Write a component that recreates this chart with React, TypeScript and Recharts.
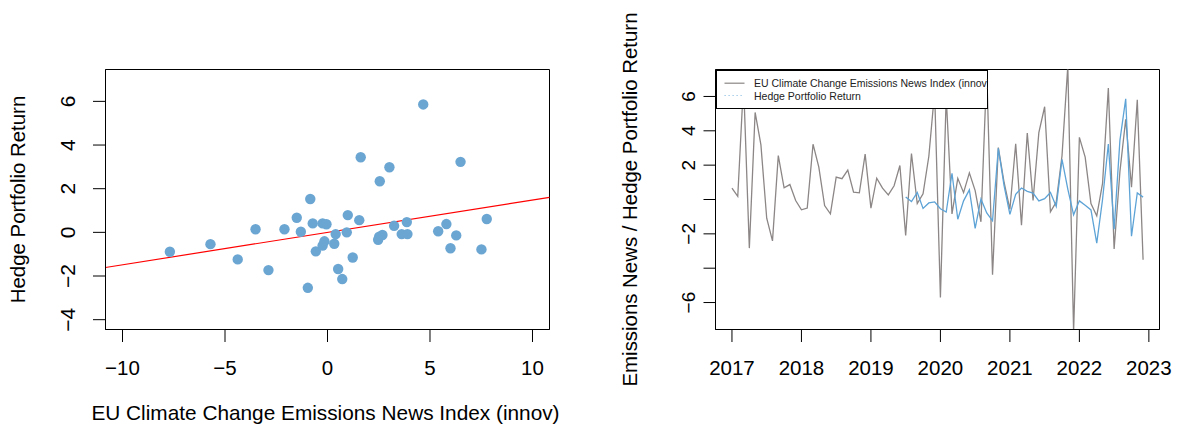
import React from 'react';
import {
  ScatterChart,
  Scatter,
  LineChart,
  Line,
  XAxis,
  YAxis,
  ReferenceLine,
  ReferenceArea,
  Legend,
  Label,
} from 'recharts';

const FONT = '"Liberation Sans", Arial, Helvetica, sans-serif';

// monthly series, Jan 2017 .. Dec 2022
const START_YEAR = 2017;
// hedge returns start in Jul 2019 (month index 30)
const HEDGE_START = 30;

const NEWS_LABEL = 'EU Climate Change Emissions News Index (innov)';
const HEDGE_LABEL = 'Hedge Portfolio Return';

const newsIndex = [
  0.66, 0.18, 6.8, -2.83, 5.07, 3.18, -1.09, -2.41, 2.56, 0.68, 0.87, -0.06,
  -0.6, -0.5, 3.22, 1.88, -0.35, -0.83, 1.3, 1.21, 1.71, 0.43, 0.39, 2.64,
  -0.5, 1.24, 0.66, 0.27, 0.8, 1.98, -2.1, 2.68, -0.24, 0.33, 2.52, 6.28,
  -5.71, 6.0, -0.84, 1.23, 0.4, 1.55, 0.52, -1.3, 7.51, -4.38, 3.02, 0.99,
  -0.57, 3.25, -1.5, 3.87, -0.05, 3.9, 5.4, -0.72, -0.15, 2.55, 7.77, -7.69,
  3.62, 2.47, -0.24, -0.96, 0.94, 6.49, -2.88, 1.62, 4.67, 0.72, 5.8, -3.51,
];

const hedgeReturn = [
  0.14, -0.12, 0.41, -0.52, -0.2, -0.14, -0.54, -0.73, 1.53, -1.15, -0.08, 0.56,
  -1.68, 0.03, -0.78, -1.24, 2.98, 0.79, -0.87, 0.3, 0.67, 0.47, 0.37, -0.08,
  0.05, 0.41, -0.41, 2.34, 0.61, -0.89, -0.08, -0.34, -0.61, -2.54, 0.0, 3.23,
  -1.73, 3.44, 5.86, -2.14, 0.38, 0.14,
];

const scatterXTicks = [-10, -5, 0, 5, 10];
const scatterYTicks = [-4, -2, 0, 2, 4, 6];
const yearTicks = [2017, 2018, 2019, 2020, 2021, 2022, 2023];
const seriesYTicks = [-6, -4, -2, 0, 2, 4, 6];
const seriesYLabels = [6, 4, 2, -2, -6]; // 0 and -4 are dropped (overlap)

const SCATTER_X_DOMAIN: [number, number] = [-10.83, 10.83];
const SCATTER_Y_DOMAIN: [number, number] = [-4.45, 7.46];
const SERIES_X_DOMAIN: [number, number] = [2016.763, 2023.153];
const SERIES_Y_DOMAIN: [number, number] = [-7.57, 7.57];

const scatterData = hedgeReturn.map((y, i) => ({ x: newsIndex[i + HEDGE_START], y }));

const seriesData = newsIndex.map((news, i) => ({
  t: START_YEAR + i / 12,
  news,
  hedge: i >= HEDGE_START ? hedgeReturn[i - HEDGE_START] : null,
}));

// lm(hedge ~ news)
const fit = (() => {
  const n = scatterData.length;
  const mx = scatterData.reduce((s, p) => s + p.x, 0) / n;
  const my = scatterData.reduce((s, p) => s + p.y, 0) / n;
  let sxy = 0;
  let sxx = 0;
  scatterData.forEach((p) => {
    sxy += (p.x - mx) * (p.y - my);
    sxx += (p.x - mx) * (p.x - mx);
  });
  const slope = sxy / sxx;
  return { slope, intercept: my - slope * mx };
})();

const fmt = (v: number) => (v < 0 ? `\u2212${Math.abs(v)}` : `${v}`);

const AXIS = '#000';
const NEWS_COLOR = '#8c8686';
const HEDGE_COLOR = '#5da3d6';
const DOT_COLOR = '#6ba6d3';

const RotatedTick = (props: any) => {
  const { x, y, payload, fontSize, show } = props;
  if (show && !show.includes(payload.value)) return <g />;
  return (
    <text
      x={x}
      y={y}
      transform={`rotate(-90 ${x} ${y})`}
      textAnchor="middle"
      fontSize={fontSize}
      fontFamily={FONT}
      fill="#000"
    >
      {fmt(payload.value)}
    </text>
  );
};

const YTitle = (props: any) => {
  const { viewBox, value, baseX } = props;
  const cy = viewBox ? viewBox.y + viewBox.height / 2 : 199.5;
  return (
    <text
      x={baseX}
      y={cy}
      transform={`rotate(-90 ${baseX} ${cy})`}
      textAnchor="middle"
      fontSize={20.4}
      fontFamily={FONT}
      fill="#000"
    >
      {value}
    </text>
  );
};

const XTitle = (props: any) => {
  const { viewBox, value, baseY } = props;
  const cx = viewBox ? viewBox.x + viewBox.width / 2 - 2 : 325.5;
  return (
    <text x={cx} y={baseY} textAnchor="middle" fontSize={20.8} fontFamily={FONT} fill="#000">
      {value}
    </text>
  );
};

// legend rows in the order R draws them
const legendOrder = ['news', 'hedge'];
const legendStyles: Record<string, { color: string; dash?: string; label: string }> = {
  news: { color: NEWS_COLOR, label: NEWS_LABEL },
  hedge: { color: '#8fc0e4', dash: '1.2 2.8', label: HEDGE_LABEL },
};

const BoxLegend = (props: any) => {
  const payload = props.payload || [];
  const keys = legendOrder.filter((k) => payload.some((e: any) => e.dataKey === k));
  const rows = [13.2, 25.5];
  return (
    <svg width={272} height={39} style={{ display: 'block' }}>
      <rect x={0.5} y={0.5} width={271} height={38} fill="#fff" stroke={AXIS} />
      {keys.map((key, i) => {
        const st = legendStyles[key];
        const cy = rows[i];
        return (
          <g key={key}>
            <line x1={8.5} x2={28.5} y1={cy} y2={cy} stroke={st.color} strokeWidth={1.2} strokeDasharray={st.dash} />
            <text x={38} y={cy} dominantBaseline="central" fontSize={10.5} fontFamily={FONT} fill="#222">
              {st.label}
            </text>
          </g>
        );
      })}
    </svg>
  );
};

const ScatterPanel = () => {
  const [x0, x1] = SCATTER_X_DOMAIN;
  const [y0, y1] = SCATTER_Y_DOMAIN;
  return (
    <ScatterChart width={600} height={430} margin={{ top: 69.5, right: 50.5, bottom: 0, left: 25.5 }}>
      <XAxis
        type="number"
        dataKey="x"
        domain={SCATTER_X_DOMAIN}
        allowDataOverflow
        ticks={scatterXTicks}
        interval={0}
        height={100.5}
        tickSize={12.5}
        tickMargin={18}
        axisLine={{ stroke: AXIS }}
        tickLine={{ stroke: AXIS }}
        tick={{ fill: '#000', fontSize: 20.5, fontFamily: FONT }}
        tickFormatter={fmt}
      >
        <Label content={(p: any) => <XTitle {...p} value={NEWS_LABEL} baseY={420} />} />
      </XAxis>
      <YAxis
        type="number"
        dataKey="y"
        domain={SCATTER_Y_DOMAIN}
        allowDataOverflow
        ticks={scatterYTicks}
        interval={0}
        width={80}
        tickSize={12.5}
        tickMargin={18}
        axisLine={{ stroke: AXIS }}
        tickLine={{ stroke: AXIS }}
        tick={(p: any) => <RotatedTick {...p} fontSize={21} />}
      >
        <Label content={(p: any) => <YTitle {...p} value={HEDGE_LABEL} baseX={24.5} />} />
      </YAxis>
      <ReferenceArea x1={x0} x2={x1} y1={y0} y2={y1} fill="none" stroke={AXIS} strokeWidth={1} ifOverflow="visible" />
      <ReferenceLine
        segment={[
          { x: x0, y: fit.intercept + fit.slope * x0 },
          { x: x1, y: fit.intercept + fit.slope * x1 },
        ]}
        stroke="#ff0000"
        strokeWidth={1.2}
        ifOverflow="visible"
      />
      <Scatter
        data={scatterData}
        isAnimationActive={false}
        fill={DOT_COLOR}
        shape={(p: any) => <circle cx={p.cx} cy={p.cy} r={5.2} fill={DOT_COLOR} />}
      />
    </ScatterChart>
  );
};

const SeriesPanel = () => {
  const [x0, x1] = SERIES_X_DOMAIN;
  const [y0, y1] = SERIES_Y_DOMAIN;
  return (
    <LineChart width={577} height={430} data={seriesData} margin={{ top: 69.5, right: 17.5, bottom: 0, left: 45.5 }}>
      <XAxis
        type="number"
        dataKey="t"
        domain={SERIES_X_DOMAIN}
        allowDataOverflow
        ticks={yearTicks}
        interval={0}
        height={100.5}
        tickSize={12.5}
        tickMargin={18}
        axisLine={{ stroke: AXIS }}
        tickLine={{ stroke: AXIS }}
        tick={{ fill: '#000', fontSize: 20.5, fontFamily: FONT }}
      />
      <YAxis
        type="number"
        domain={SERIES_Y_DOMAIN}
        allowDataOverflow
        ticks={seriesYTicks}
        interval={0}
        width={70}
        tickSize={12}
        tickMargin={8.5}
        axisLine={{ stroke: AXIS }}
        tickLine={{ stroke: AXIS }}
        tick={(p: any) => <RotatedTick {...p} fontSize={19} show={seriesYLabels} />}
      >
        <Label
          content={(p: any) => (
            <YTitle {...p} value="Emissions News / Hedge Portfolio Return" baseX={36.5} />
          )}
        />
      </YAxis>
      <ReferenceArea x1={x0} x2={x1} y1={y0} y2={y1} fill="none" stroke={AXIS} strokeWidth={1} ifOverflow="visible" />
      <Line
        type="linear"
        dataKey="news"
        stroke={NEWS_COLOR}
        strokeWidth={1.3}
        dot={false}
        isAnimationActive={false}
      />
      <Line
        type="linear"
        dataKey="hedge"
        stroke={HEDGE_COLOR}
        strokeWidth={1.3}
        dot={false}
        isAnimationActive={false}
      />
      <Legend
        layout="horizontal"
        verticalAlign="middle"
        align="center"
        wrapperStyle={{ position: 'absolute', left: 115.5, top: 69.5, width: 272, height: 39 }}
        content={(p: any) => <BoxLegend {...p} />}
      />
    </LineChart>
  );
};

export default function App() {
  return (
    <div style={{ position: 'absolute', left: 0, top: 0, width: 1177, height: 430, background: '#fff' }}>
      <div style={{ position: 'absolute', left: 0, top: 0 }}>
        <ScatterPanel />
      </div>
      <div style={{ position: 'absolute', left: 600, top: 0 }}>
        <SeriesPanel />
      </div>
    </div>
  );
}
